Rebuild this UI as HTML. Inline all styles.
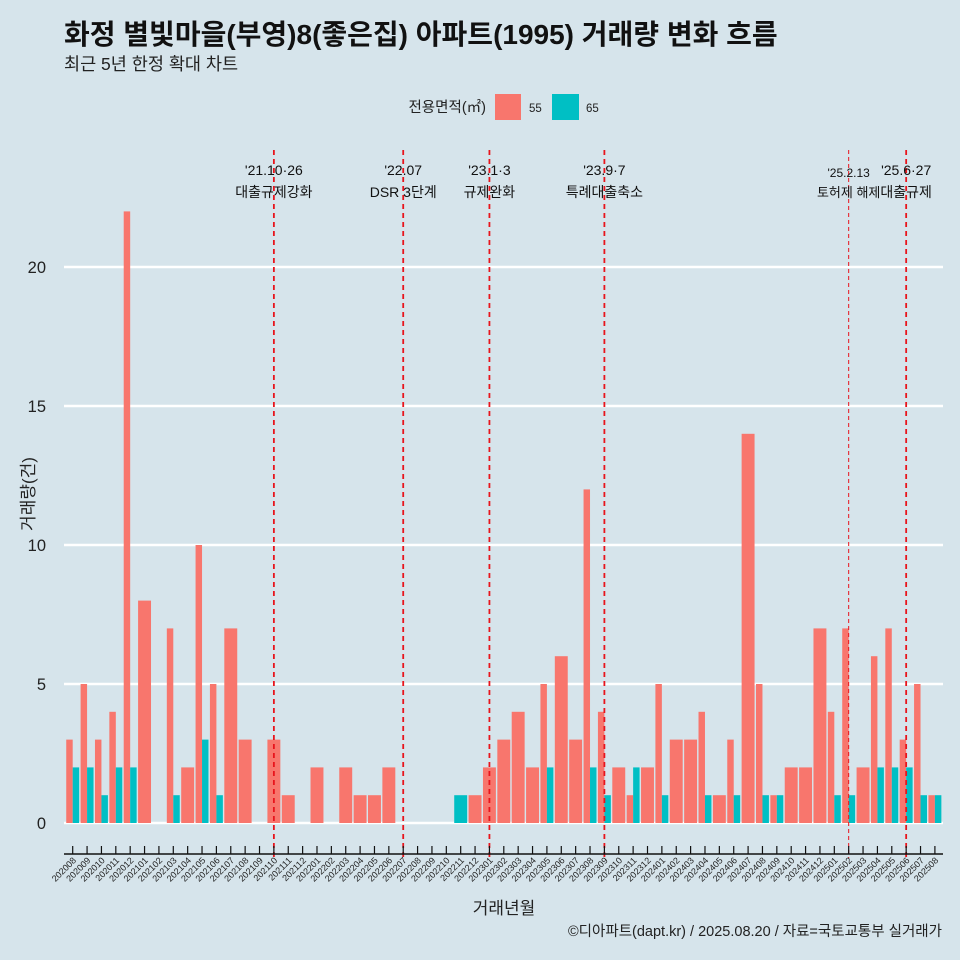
<!DOCTYPE html>
<html><head><meta charset="utf-8"><style>
body{margin:0;background:#d6e4eb;}
svg{display:block;font-family:"Liberation Sans","Noto Sans CJK KR",sans-serif;}
</style></head><body>
<svg id="chart" width="960" height="960" viewBox="0 0 960 960">
<rect width="960" height="960" fill="#d6e4eb"/>
<text x="64" y="44" font-size="28" font-weight="bold" fill="#111">화정 별빛마을(부영)8(좋은집) 아파트(1995) 거래량 변화 흐름</text>
<text x="64" y="70" font-size="17.5" fill="#222">최근 5년 한정 확대 차트</text>
<g>
<text x="486" y="112" font-size="14.5" text-anchor="end" fill="#222">전용면적(㎡)</text>
<rect x="495" y="94" width="26" height="26" fill="#f8766d"/>
<text x="529" y="112" font-size="11.5" fill="#222">55</text>
<rect x="552" y="94" width="27" height="26" fill="#00bfc4"/>
<text x="586" y="112" font-size="11.5" fill="#222">65</text>
</g>
<g id="grid"></g><g id="bars"></g><g id="vlines"></g><g id="xaxis"></g>
<text x="0" y="0" transform="translate(34,494) rotate(-90)" font-size="17" text-anchor="middle" fill="#222">거래량(건)</text>
<text x="504" y="914" font-size="17" text-anchor="middle" fill="#222">거래년월</text>
<text x="942" y="936" font-size="14.5" text-anchor="end" fill="#222">©디아파트(dapt.kr) / 2025.08.20 / 자료=국토교통부 실거래가</text>
</svg>
<script>
const months=["202008","202009","202010","202011","202012","202101","202102","202103","202104","202105","202106","202107","202108","202109","202110","202111","202112","202201","202202","202203","202204","202205","202206","202207","202208","202209","202210","202211","202212","202301","202302","202303","202304","202305","202306","202307","202308","202309","202310","202311","202312","202401","202402","202403","202404","202405","202406","202407","202408","202409","202410","202411","202412","202501","202502","202503","202504","202505","202506","202507","202508"];
const s55=[3,5,3,4,22,8,0,7,2,10,5,7,3,0,3,1,0,2,0,2,1,1,2,0,0,0,0,0,1,2,3,4,2,5,6,3,12,4,2,1,2,5,3,3,4,1,3,14,5,1,2,2,7,4,7,2,6,7,3,5,1];
const s65=[2,2,1,2,2,0,0,1,0,3,1,0,0,0,0,0,0,0,0,0,0,0,0,0,0,0,0,1,0,0,0,0,0,2,0,0,2,1,0,2,0,1,0,0,1,0,1,0,1,1,0,0,0,1,1,0,2,2,2,1,1];
const yTicks=[0,5,10,15,20];
const events=[{m:"202110",l1:"'21.10·26",l2:"대출규제강화",thin:false},{m:"202207",l1:"'22.07",l2:"DSR 3단계",thin:false},{m:"202301",l1:"'23.1·3",l2:"규제완화",thin:false},{m:"202309",l1:"'23.9·7",l2:"특례대출축소",thin:false},{m:"202502",l1:"'25.2.13",l2:"토허제 해제",thin:true},{m:"202506",l1:"'25.6·27",l2:"대출규제",thin:false}];
const NS="http://www.w3.org/2000/svg";
const X0=72.7,STEP=14.37,Y0=823,YS=27.8;
const xs=i=>X0+i*STEP, ys=v=>Y0-v*YS;
function mk(t,a,p){const e=document.createElementNS(NS,t);for(const k in a)e.setAttribute(k,a[k]);p.appendChild(e);return e;}
const grid=document.getElementById('grid');
yTicks.forEach(v=>{
 const l=mk('line',{x1:64,x2:943,y1:ys(v),y2:ys(v),stroke:'#fff','stroke-width':2.5},grid);
 
 
 const t=mk('text',{x:46,y:ys(v)+6,'font-size':16.5,'text-anchor':'end',fill:'#222'},grid);
 t.textContent=v;
 
 
});
const bars=document.getElementById('bars');
const W=STEP*0.9;
months.forEach((m,i)=>{
 const a=s55[i],b=s65[i];const c=xs(i);
 const both=a>0&&b>0;
 if(a>0){const x=c-W/2;const w=both?W/2:W;
  const r=mk('rect',{x:x,y:ys(a),width:w,height:a*YS,fill:'#f8766d'},bars);
  
  }
 if(b>0){const x=both?c:c-W/2;const w=both?W/2:W;
  const r=mk('rect',{x:x,y:ys(b),width:w,height:b*YS,fill:'#00bfc4'},bars);
  
  }
});
const xa=document.getElementById('xaxis');
const ax=mk('line',{x1:64,x2:943,y1:854,y2:854,stroke:'#111','stroke-width':1.5},xa);


months.forEach((m,i)=>{
 const x=xs(i);
 const tk=mk('line',{x1:x,x2:x,y1:846,y2:854,stroke:'#111','stroke-width':1.2},xa);
 
 
 const t=mk('text',{x:0,y:0,'font-size':9,'text-anchor':'end',fill:'#222',transform:`translate(${x+4},${861}) rotate(-45)`},xa);
 t.textContent=m;
 
 
});
const vl=document.getElementById('vlines');
events.forEach(ev=>{
 const i=months.indexOf(ev.m);const x=xs(i);
 const l=mk('line',{x1:x,x2:x,y1:150,y2:858,stroke:'#e8141c','stroke-width':ev.thin?1:1.8,'stroke-dasharray':ev.thin?'4,3':'5,4'},vl);
 
 
 const fs=ev.thin?12:14;
 const t1=mk('text',{x:x,y:ev.thin?177:175,'font-size':fs,'text-anchor':'middle',fill:'#111'},vl);
 t1.textContent=ev.l1;
 
 
 const t2=mk('text',{x:x,y:197,'font-size':ev.thin?13:14,'text-anchor':'middle',fill:'#111'},vl);
 t2.textContent=ev.l2;
 
 
});
</script>
</body></html>
